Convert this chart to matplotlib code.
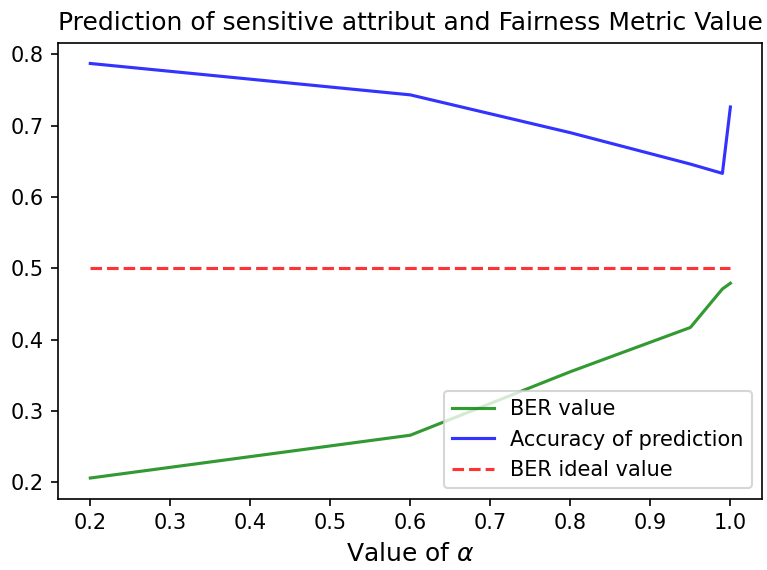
import matplotlib.pyplot as plt

# values
alpha = [0.2, 0.6, 0.8, 0.95, 0.99, 1.0]
ber = [0.206, 0.266, 0.355, 0.417, 0.471, 0.479]
accuracy = [0.787, 0.743, 0.690, 0.646, 0.633, 0.726]
ber_ideal = [0.5] * len(alpha)

fig, ax = plt.subplots(figsize=(767 / 150, 570 / 150), dpi=150)
ax.plot(alpha, ber, color="g", alpha=0.8, lw=1.5, label="BER value")
ax.plot(alpha, accuracy, color="b", alpha=0.8, lw=1.5, label="Accuracy of prediction")
ax.plot(alpha, ber_ideal, "r--", alpha=0.8, lw=1.5, label="BER ideal value")

ax.set_title("Prediction of sensitive attribut and Fairness Metric Value")
ax.set_xlabel(r"Value of $\alpha$", fontsize=12)
ax.legend(loc="lower right")

plt.subplots_adjust(left=0.076, right=0.994, top=0.925, bottom=0.125)
plt.savefig("out.png", dpi=150)
